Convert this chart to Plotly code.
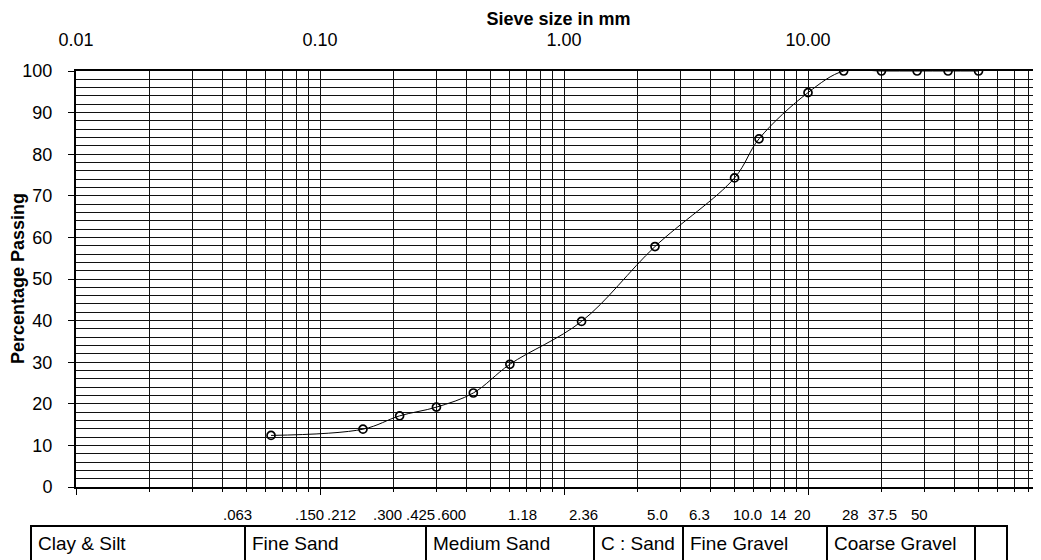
import plotly.graph_objects as go

# sieve analysis results
SIEVE_MM = [0.063, 0.150, 0.212, 0.300, 0.425, 0.600, 1.18, 2.36, 5.0, 6.3, 10.0, 14, 20, 28, 37.5, 50]
PASSING = [12.4, 13.9, 17.1, 19.2, 22.6, 29.5, 39.8, 57.8, 74.3, 83.7, 94.8, 100, 100, 100, 100, 100]

DECADES = [0.01, 0.1, 1, 10]
DECADE_LABELS = ["0.01", "0.10", "1.00", "10.00"]
MINOR = [m * d for d in [0.01, 0.1, 1, 10] for m in range(2, 10)]
Y_TICKS = list(range(0, 101, 10))

SIEVE_LABELS = [".063", ".150", ".212", ".300", ".425", ".600", "1.18", "2.36",
                "5.0", "6.3", "10.0", "14", "20", "28", "37.5", "50"]
SOIL_CLASSES = ["Clay & Silt", "Fine Sand", "Medium Sand", "C : Sand",
                "Fine Gravel", "Coarse Gravel", ""]

# layout, in window pixels; the page body adds an 8px margin
PAGE = 8
W, H = 1041 - PAGE, 560 - PAGE
L, T, PW, PH = 76 - PAGE, 71 - PAGE, 965, 416
FONT = "Liberation Sans, Arial, sans-serif"
LABEL_PX = [237, 309, 341, 387, 420, 451, 522, 583, 657, 699, 747, 778, 802, 850, 882, 919]
CELL_EDGES = [31, 245, 426, 594, 683, 827, 975, 1007]
TABLE_TOP = 526


def px(x):
    # window pixel -> paper x
    return (x - PAGE - L) / PW


def py(y):
    # window pixel -> paper y
    return (T + PH - (y - PAGE)) / PH


fig = go.Figure()
fig.add_trace(go.Scatter(
    x=SIEVE_MM, y=PASSING, mode="lines+markers",
    line=dict(color="black", width=1, shape="spline"),
    marker=dict(symbol="circle-open", size=8, color="black", line=dict(width=1.7)),
    showlegend=False,
))
# carrier for the top axis
fig.add_trace(go.Scatter(x=SIEVE_MM, y=PASSING, xaxis="x2", mode="lines",
                         line=dict(width=0), opacity=0, showlegend=False,
                         hoverinfo="skip"))

grid = "#111"
fig.update_layout(
    width=W, height=H,
    margin=dict(l=L, r=W - L - PW, t=T, b=H - T - PH),
    paper_bgcolor="white", plot_bgcolor="white",
    font=dict(family=FONT, color="black", size=17),
    xaxis=dict(
        type="log", range=[-2, -2 + PW / 244], automargin=False,
        tickvals=DECADES, showticklabels=False,
        ticks="outside", ticklen=6, tickcolor="black",
        showgrid=True, gridcolor=grid, gridwidth=1,
        minor=dict(tickvals=MINOR, ticks="outside", ticklen=3, tickcolor="black",
                   showgrid=True, gridcolor=grid, gridwidth=1),
        showline=True, linecolor="black", linewidth=2, mirror=True,
        zeroline=False,
    ),
    xaxis2=dict(
        type="log", range=[-2, -2 + PW / 244], overlaying="x", side="top",
        automargin=False,
        tickvals=DECADES, ticktext=DECADE_LABELS, ticks="",
        ticklabelstandoff=20, tickfont=dict(size=18),
        showgrid=False, showline=False, zeroline=False,
        title=dict(text="<b>Sieve size in mm</b>", font=dict(size=18), standoff=0),
    ),
    yaxis=dict(
        range=[0, 100], tickvals=Y_TICKS, automargin=False,
        ticks="outside", ticklen=6, tickcolor="black",
        ticklabelstandoff=12, tickfont=dict(size=18),
        showgrid=True, gridcolor=grid, gridwidth=1,
        minor=dict(dtick=2, showgrid=True, gridcolor=grid, gridwidth=1),
        showline=True, linecolor="black", linewidth=2, mirror=True,
        zeroline=False,
    ),
)

fig.add_annotation(x=px(18), y=0.5, xref="paper", yref="paper",
                   text="<b>Percentage Passing</b>", textangle=-90,
                   showarrow=False, xanchor="center", yanchor="middle",
                   font=dict(size=18))

# sieve size labels under the axis
for text, x in zip(SIEVE_LABELS, LABEL_PX):
    fig.add_annotation(x=px(x), y=py(514), xref="paper", yref="paper",
                       text=text, showarrow=False, xanchor="center",
                       yanchor="middle", font=dict(size=15))

# classification table
fig.add_shape(type="line", xref="paper", yref="paper",
              x0=px(CELL_EDGES[0] - 1), x1=px(CELL_EDGES[-1] + 1),
              y0=py(TABLE_TOP), y1=py(TABLE_TOP),
              line=dict(color="black", width=2))
for e in CELL_EDGES:
    fig.add_shape(type="line", xref="paper", yref="paper",
                  x0=px(e), x1=px(e), y0=py(TABLE_TOP), y1=py(600),
                  line=dict(color="black", width=2))
for text, e in zip(SOIL_CLASSES, CELL_EDGES[:-1]):
    if text:
        fig.add_annotation(x=px(e + 5), y=py(543), xref="paper", yref="paper",
                           text=text, showarrow=False, xanchor="left",
                           yanchor="middle", font=dict(size=19))

fig.write_html("out.html")
